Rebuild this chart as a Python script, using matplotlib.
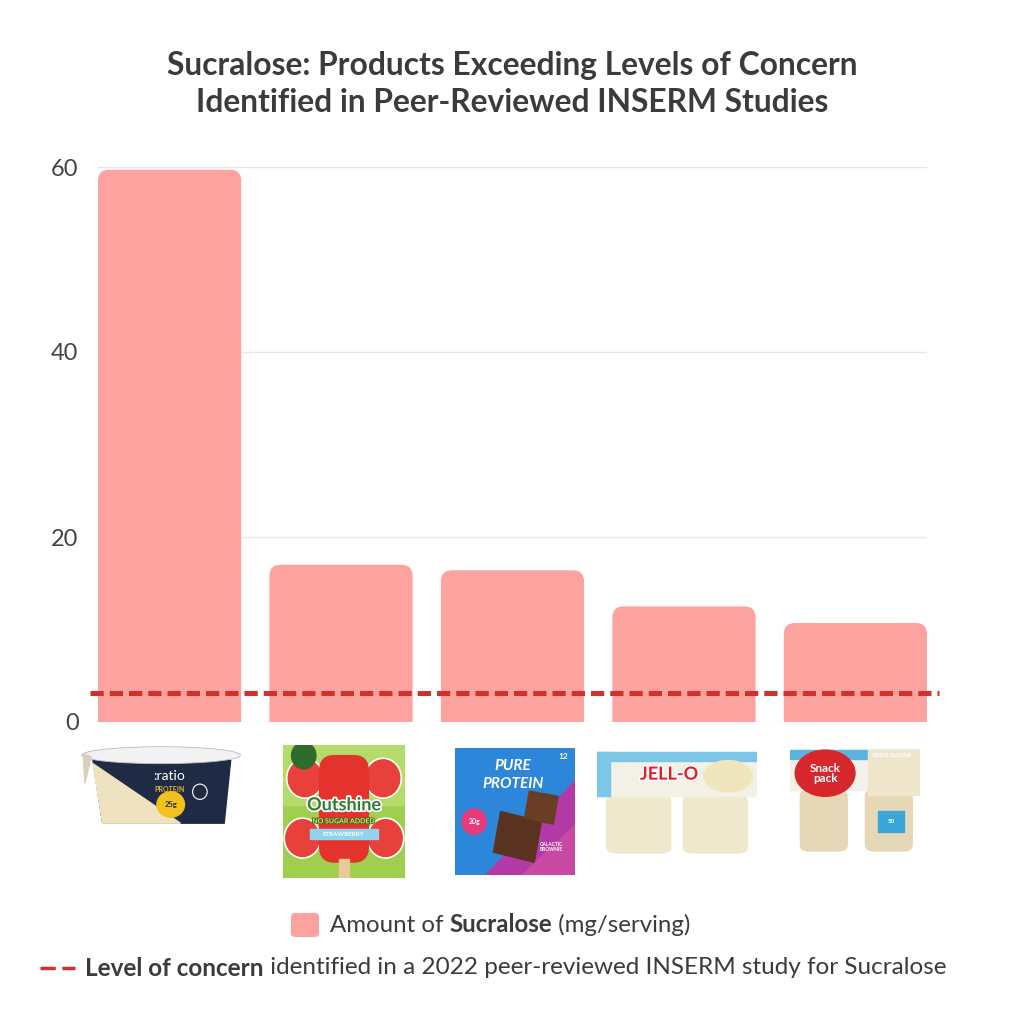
import numpy as np
import matplotlib
matplotlib.use('Agg')
import matplotlib.pyplot as plt
import matplotlib.patches as mpatches
import matplotlib.patheffects as pe
from matplotlib.path import Path

# chart data
products = ['ratio Protein', 'Outshine Strawberry', 'Pure Protein Brownie',
            'Jell-O Vanilla', 'Snack Pack Vanilla']
sucralose = [59.7, 17.0, 16.4, 12.5, 10.7]
level_of_concern = 3.1
yticks = [0, 20, 40, 60]

title_lines = ['Sucralose: Products Exceeding Levels of Concern',
               'Identified in Peer-Reviewed INSERM Studies']

BAR = '#fca3a0'
LINE = '#d1302c'
TXT = '#3b3b3b'
FONT = 'Lato'

W = H = 1024


def fig_box(x0, y0, x1, y1):
    # pixel box (top-left origin) -> figure fraction rect
    return [x0 / W, 1 - y1 / H, (x1 - x0) / W, (y1 - y0) / H]


def rounded_top(ax, x0, w, h, r_px):
    p0 = ax.transData.transform((0, 0))
    p1 = ax.transData.transform((1, 1))
    rx = r_px / (p1[0] - p0[0])
    ry = r_px / (p1[1] - p0[1])
    ry = min(ry, h)
    x1 = x0 + w
    verts = [(x0, 0), (x0, h - ry), (x0, h), (x0 + rx, h),
             (x1 - rx, h), (x1, h), (x1, h - ry), (x1, 0), (x0, 0)]
    codes = [Path.MOVETO, Path.LINETO, Path.CURVE3, Path.CURVE3,
             Path.LINETO, Path.CURVE3, Path.CURVE3, Path.LINETO,
             Path.CLOSEPOLY]
    return mpatches.PathPatch(Path(verts, codes), facecolor=BAR,
                              edgecolor='none', zorder=2)


fig = plt.figure(figsize=(10.24, 10.24), dpi=100)
fig.patch.set_facecolor('white')

ax = fig.add_axes(fig_box(98, 167, 927, 722))
xpos = np.arange(len(products))
bars = ax.bar(xpos, sucralose, width=0.835, color=BAR, zorder=2)
ax.set_xlim(-0.4175, len(products) - 1 + 0.4175)
ax.set_ylim(0, 60)
for b in bars:
    b.set_visible(False)
    ax.add_patch(rounded_top(ax, b.get_x(), b.get_width(), b.get_height(), 11))

ax.plot([-0.463, 4.49], [level_of_concern] * 2, color=LINE, lw=3.6,
        dashes=(2.65, 1.2), clip_on=False, zorder=3)

ax.set_yticks(yticks)
ax.set_yticklabels([str(t) for t in yticks], fontsize=17, color='#444444',
                   fontfamily=FONT)
ax.tick_params(axis='y', length=0, pad=14)
ax.set_xticks([])
for s in ax.spines.values():
    s.set_visible(False)
ax.yaxis.grid(True, color='#e6e6e6', lw=1, zorder=0)
ax.set_axisbelow(True)

# title
fig.text(0.5, 1 - 65 / H, title_lines[0], ha='center', va='center',
         fontsize=22.9, fontweight='bold', color=TXT, fontfamily=FONT)
fig.text(0.5, 1 - 103 / H, title_lines[1], ha='center', va='center',
         fontsize=22.9, fontweight='bold', color=TXT, fontfamily=FONT)


# product pictures, drawn as simple packages
def pic_axes(box):
    a = fig.add_axes(fig_box(*box))
    a.set_xlim(0, 1)
    a.set_ylim(0, 1)
    a.axis('off')
    return a


def draw_ratio(a):
    a.add_patch(mpatches.Polygon([(0.08, 0.82), (0.93, 0.82), (0.89, 0.08),
                                  (0.14, 0.08)], color='#1f2a44'))
    a.add_patch(mpatches.Polygon([(0.08, 0.78), (0.14, 0.08), (0.62, 0.08)],
                                 color='#efe2c0'))
    a.add_patch(mpatches.Ellipse((0.5, 0.88), 0.98, 0.2, color='#f2f2f2',
                                 ec='#bbbbbb', lw=0.6))
    a.add_patch(mpatches.Polygon([(0.02, 0.9), (0.07, 0.86), (0.03, 0.55)],
                                 color='#d8d0bc'))
    a.text(0.55, 0.64, ':ratio', color='white', fontsize=10, ha='center',
           va='center', fontfamily=FONT)
    a.text(0.55, 0.48, 'PROTEIN', color='#e8b923', fontsize=5, ha='center',
           va='center', fontweight='bold', fontfamily=FONT)
    a.add_patch(mpatches.Ellipse((0.56, 0.3), 0.17, 0.3, color='#f2c21b'))
    a.text(0.56, 0.3, '25g', color='#1f2a44', fontsize=5.5, ha='center',
           va='center', fontweight='bold', fontfamily=FONT)
    a.add_patch(mpatches.Ellipse((0.74, 0.45), 0.09, 0.18, fc='none',
                                 ec='white', lw=0.8))


def draw_outshine(a):
    a.add_patch(mpatches.Rectangle((0, 0), 1, 1, color='#9fcf4c'))
    a.add_patch(mpatches.Rectangle((0, 0.55), 1, 0.45, color='#b5db6a'))
    for cx, cy in [(0.18, 0.75), (0.82, 0.75), (0.16, 0.3), (0.84, 0.3)]:
        a.add_patch(mpatches.Ellipse((cx, cy), 0.3, 0.3, fc='#e8403a',
                                     ec='white', lw=1.2))
    a.add_patch(mpatches.FancyBboxPatch((0.3, 0.12), 0.4, 0.8,
                                        boxstyle='round,pad=0,rounding_size=0.12',
                                        color='#e4332c'))
    a.add_patch(mpatches.Rectangle((0.46, 0.0), 0.08, 0.14, color='#e9c99a'))
    a.add_patch(mpatches.Circle((0.17, 0.92), 0.1, color='#2e6b2f'))
    t = a.text(0.5, 0.55, 'Outshine', color='#2f7d32', fontsize=13,
               ha='center', va='center', fontweight='bold', fontfamily=FONT)
    t.set_path_effects([pe.withStroke(linewidth=2.5, foreground='white')])
    a.text(0.5, 0.43, 'NO SUGAR ADDED', color='#f4e04d', fontsize=5,
           ha='center', va='center', fontweight='bold', fontfamily=FONT,
           path_effects=[pe.withStroke(linewidth=1.2, foreground='#2f6d2f')])
    a.add_patch(mpatches.Rectangle((0.22, 0.29), 0.56, 0.08, color='#8fd3ef'))
    a.text(0.5, 0.33, 'STRAWBERRY', color='white', fontsize=4.5, ha='center',
           va='center', fontweight='bold', fontfamily=FONT)


def draw_pure(a):
    a.add_patch(mpatches.Rectangle((0, 0), 1, 1, color='#2c86d9'))
    a.add_patch(mpatches.Polygon([(0.25, 0), (1, 0), (1, 0.75)],
                                 color='#b23aa6'))
    a.add_patch(mpatches.Polygon([(0.55, 0), (1, 0), (1, 0.4)],
                                 color='#c948a4'))
    a.text(0.48, 0.86, 'PURE', color='white', fontsize=11, ha='center',
           va='center', fontweight='bold', style='italic', fontfamily=FONT)
    a.text(0.48, 0.72, 'PROTEIN', color='white', fontsize=11, ha='center',
           va='center', fontweight='bold', style='italic', fontfamily=FONT)
    a.text(0.9, 0.93, '12', color='white', fontsize=6, ha='center',
           va='center', fontweight='bold', fontfamily=FONT)
    a.add_patch(mpatches.Circle((0.16, 0.42), 0.1, color='#e53b7a'))
    a.text(0.16, 0.42, '20g', color='white', fontsize=5, ha='center',
           va='center', fontweight='bold', fontfamily=FONT)
    a.add_patch(mpatches.Polygon([(0.32, 0.18), (0.66, 0.1), (0.72, 0.42),
                                  (0.38, 0.5)], color='#5a3320'))
    a.add_patch(mpatches.Polygon([(0.58, 0.45), (0.82, 0.4), (0.86, 0.62),
                                  (0.62, 0.66)], color='#6b3d25'))
    a.text(0.8, 0.22, 'GALACTIC\nBROWNIE', color='white', fontsize=3.5,
           ha='center', va='center', fontweight='bold', fontfamily=FONT)


def draw_jello(a):
    for x0 in [0.06, 0.54]:
        a.add_patch(mpatches.FancyBboxPatch((x0, 0.02), 0.4, 0.55,
                                            boxstyle='round,pad=0,rounding_size=0.06',
                                            color='#efe8cc'))
    a.add_patch(mpatches.Rectangle((0, 0.56), 1, 0.42, color='#f3f1e6'))
    a.add_patch(mpatches.Rectangle((0, 0.9), 1, 0.08, color='#7cc6e8'))
    a.add_patch(mpatches.Rectangle((0, 0.56), 0.08, 0.42, color='#7cc6e8'))
    a.add_patch(mpatches.Ellipse((0.82, 0.75), 0.3, 0.3, color='#f0e6bd'))
    t = a.text(0.45, 0.77, 'JELL-O', color='#e21f26', fontsize=13,
               ha='center', va='center', fontweight='bold', fontfamily=FONT)
    t.set_path_effects([pe.withStroke(linewidth=2.2, foreground='white')])


def draw_snack(a):
    for x0 in [0.08, 0.58]:
        a.add_patch(mpatches.FancyBboxPatch((x0, 0.02), 0.36, 0.58,
                                            boxstyle='round,pad=0,rounding_size=0.06',
                                            color='#e6d8b6'))
    a.add_patch(mpatches.Rectangle((0, 0.6), 1, 0.38, color='#f4f1ea'))
    a.add_patch(mpatches.Rectangle((0, 0.9), 1, 0.08, color='#5bb4df'))
    a.add_patch(mpatches.Rectangle((0.6, 0.55), 0.4, 0.43, color='#efe6cc'))
    a.add_patch(mpatches.Ellipse((0.27, 0.76), 0.46, 0.44, color='#d8262d'))
    a.text(0.27, 0.76, 'Snack\npack', color='white', fontsize=8.5,
           ha='center', va='center', fontweight='bold', fontfamily=FONT,
           linespacing=0.85)
    a.text(0.78, 0.93, 'ZERO SUGAR', color='white', fontsize=4.5,
           ha='center', va='center', fontweight='bold', fontfamily=FONT)
    a.add_patch(mpatches.Rectangle((0.68, 0.2), 0.2, 0.2, color='#3aa6dc'))
    a.text(0.78, 0.3, '50', color='white', fontsize=4.5, ha='center',
           va='center', fontweight='bold', fontfamily=FONT)


pic_boxes = [(80, 745, 242, 830), (283, 745, 405, 878), (455, 748, 575, 875),
             (597, 750, 757, 855), (790, 748, 920, 853)]
drawers = [draw_ratio, draw_outshine, draw_pure, draw_jello, draw_snack]
for box, draw in zip(pic_boxes, drawers):
    draw(pic_axes(box))

# legend
renderer = fig.canvas.get_renderer()


def rich_text(x_px, y_px, parts, size):
    x = x_px / W
    for s, bold in parts:
        t = fig.text(x, 1 - y_px / H, s, ha='left', va='center', fontsize=size,
                     color=TXT, fontfamily=FONT,
                     fontweight='bold' if bold else 'normal')
        bb = t.get_window_extent(renderer=renderer)
        x += bb.width / W


fig.patches.append(mpatches.FancyBboxPatch(
    (291 / W, 1 - 937 / H), 28 / W, 24 / H,
    boxstyle='round,pad=0,rounding_size=0.004', transform=fig.transFigure,
    facecolor=BAR, edgecolor='none'))
rich_text(330, 925, [('Amount of ', False), ('Sucralose', True),
                     (' (mg/serving)', False)], 17.3)

fig.lines.append(plt.Line2D([40 / W, 75 / W], [1 - 968 / H] * 2,
                            transform=fig.transFigure, color=LINE, lw=2.5,
                            dashes=(4.4, 1.9)))
rich_text(85, 968, [('Level of concern', True),
                    (' identified in a 2022 peer-reviewed INSERM study for Sucralose',
                     False)], 17.5)

fig.savefig('out.png', dpi=100, facecolor='white')
